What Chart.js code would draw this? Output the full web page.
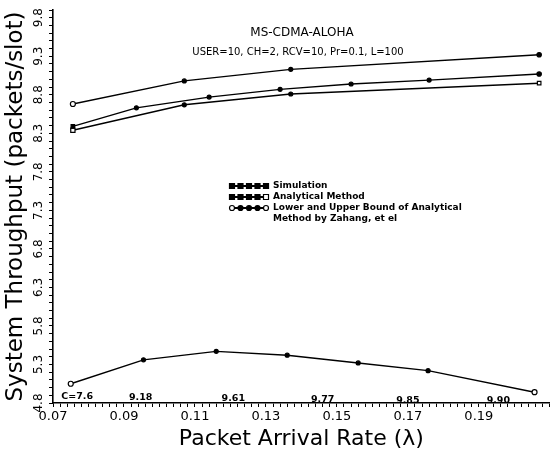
<!DOCTYPE html>
<html><head><meta charset="utf-8">
<script src="https://cdn.jsdelivr.net/npm/chart.js@4/dist/chart.umd.min.js"></script>
<style>html,body{margin:0;padding:0;background:#fff}</style>
</head><body>
<canvas id="c" width="555" height="452"></canvas>
<script>
// ---- data ----
const simX   = [0.0756, 0.0935, 0.114, 0.134, 0.154, 0.176, 0.207];
const simY   = [8.39, 8.63, 8.77, 8.87, 8.94, 8.99, 9.07];
const anaX   = [0.0756, 0.107, 0.137, 0.207];
const anaY   = [8.34, 8.67, 8.81, 8.95];
const upX    = [0.0756, 0.107, 0.137, 0.207];
const upY    = [8.68, 8.98, 9.13, 9.32];
const lowX   = [0.075, 0.0955, 0.116, 0.136, 0.156, 0.1757, 0.2057];
const lowY   = [5.05, 5.36, 5.47, 5.42, 5.32, 5.22, 4.94];
const cLabels = ['C=7.6', '9.18', '9.61', '9.77', '9.85', '9.90'];
const cLabelX = [0.0768, 0.0947, 0.1208, 0.1460, 0.1700, 0.1955];
const legendLabels = ['Simulation', 'Analytical Method', 'Lower and Upper Bound of Analytical', 'Method by Zahang, et el'];
const titleLines = ['MS-CDMA-ALOHA', 'USER=10, CH=2, RCV=10, Pr=0.1, L=100'];

const pts = (xs, ys) => xs.map((x, i) => ({x, y: ys[i]}));
const n = a => a.length;

function styleArr(len, first, mid, last) {
  return Array.from({length: len}, (_, i) => i === 0 ? first : (i === len - 1 ? last : mid));
}

const datasets = [
  { label: 'Simulation', data: pts(simX, simY),
    pointStyle: styleArr(n(simX), 'rect', 'circle', 'circle'),
    pointRadius: styleArr(n(simX), 2.5, 2, 2.2),
    pointBackgroundColor: '#000' },
  { label: 'Analytical Method', data: pts(anaX, anaY),
    pointStyle: styleArr(n(anaX), 'rect', 'circle', 'rect'),
    pointRadius: styleArr(n(anaX), 3, 2, 2.5),
    pointBackgroundColor: styleArr(n(anaX), '#fff', '#000', '#fff') },
  { label: 'Upper Bound', data: pts(upX, upY),
    pointStyle: 'circle',
    pointRadius: styleArr(n(upX), 2.5, 2, 2.2),
    pointBackgroundColor: styleArr(n(upX), '#fff', '#000', '#000') },
  { label: 'Lower Bound', data: pts(lowX, lowY),
    pointStyle: 'circle',
    pointRadius: styleArr(n(lowX), 2.5, 2, 2.5),
    pointBackgroundColor: styleArr(n(lowX), '#fff', '#000', '#fff') }
].map(d => Object.assign({
  borderColor: '#000', borderWidth: 1.4, pointBorderColor: '#000', pointBorderWidth: 1.2,
  fill: false, tension: 0
}, d));

const annot = {
  id: 'annot',
  afterDraw(chart) {
    const ctx = chart.ctx, xs = chart.scales.x;
    ctx.save();
    ctx.fillStyle = '#000';
    ctx.textAlign = 'center';
    ctx.textBaseline = 'middle';
    ctx.font = '12px "DejaVu Sans"';
    ctx.fillText(titleLines[0], 302, 33);
    ctx.font = '10px "DejaVu Sans"';
    ctx.fillText(titleLines[1], 298, 52);
    ctx.font = 'bold 9.5px "DejaVu Sans"';
    cLabels.forEach((t, i) => {
      ctx.fillText(t, xs.getPixelForValue(cLabelX[i]), 397 + i * 0.8);
    });
    // legend
    const lx0 = 232, lx1 = 266, rows = [186, 197, 208];
    ctx.strokeStyle = '#000'; ctx.lineWidth = 2;
    ctx.textAlign = 'left';
    ctx.font = 'bold 9px "DejaVu Sans"';
    rows.forEach((y, r) => {
      ctx.beginPath(); ctx.moveTo(lx0, y); ctx.lineTo(lx1, y); ctx.stroke();
      for (let k = 0; k < 5; k++) {
        const x = lx0 + k * (lx1 - lx0) / 4;
        const open = (r === 1 && k === 4) || (r === 2 && (k === 0 || k === 4));
        ctx.beginPath();
        if (r === 2) ctx.arc(x, y, 2.5, 0, Math.PI * 2); else ctx.rect(x - 2.5, y - 2.5, 5, 5);
        ctx.fillStyle = open ? '#fff' : '#000';
        ctx.fill(); ctx.lineWidth = 1.2; ctx.stroke(); ctx.lineWidth = 2;
      }
      ctx.fillStyle = '#000';
      ctx.fillText(legendLabels[r], lx1 + 7, y);
    });
    ctx.fillText(legendLabels[3], lx1 + 7, 219);
    ctx.restore();
  }
};

new Chart(document.getElementById('c'), {
  type: 'line',
  data: { datasets },
  options: {
    responsive: false,
    animation: false,
    layout: { padding: { top: 10, right: 2, left: 0, bottom: 0 } },
    plugins: { legend: { display: false }, tooltip: { enabled: false } },
    scales: {
      x: {
        type: 'linear', min: 0.07, max: 0.21,
        afterFit(s) { s.height = 49; },
        border: { display: true, color: '#000', width: 1.6 },
        grid: { drawOnChartArea: false, drawTicks: true, tickLength: 4, color: '#000', tickWidth: 1 },
        ticks: {
          stepSize: 0.002, autoSkip: false, maxRotation: 0, minRotation: 0, padding: 2,
          color: '#000', font: { family: 'DejaVu Sans', size: 13 },
          callback(v) { const r = Math.round(v * 1000); return (r <= 190 && (r - 70) % 20 === 0) ? (r / 1000).toFixed(2) : ''; }
        },
        title: { display: true, text: 'Packet Arrival Rate (λ)', color: '#000',
          font: { family: 'DejaVu Sans', size: 22 }, padding: { top: 0, bottom: 0 } }
      },
      y: {
        type: 'linear', min: 4.8, max: 9.9,
        afterFit(s) { s.width = 53; },
        border: { display: true, color: '#000', width: 1.6 },
        grid: { drawOnChartArea: false, drawTicks: true, tickLength: 4, color: '#000', tickWidth: 1 },
        ticks: {
          stepSize: 0.1, autoSkip: false, minRotation: 90, maxRotation: 90, crossAlign: 'center', padding: 1,
          color: '#000', font: { family: 'DejaVu Sans', size: 12 },
          callback(v) { const r = Math.round(v * 10); return (r - 48) % 5 === 0 ? (r / 10).toFixed(1) : ''; }
        },
        title: { display: true, text: 'System Throughput (packets/slot)', color: '#000',
          font: { family: 'DejaVu Sans', size: 23 }, padding: { top: 2, bottom: 0 } }
      }
    }
  },
  plugins: [annot]
});
</script>
</body></html>
